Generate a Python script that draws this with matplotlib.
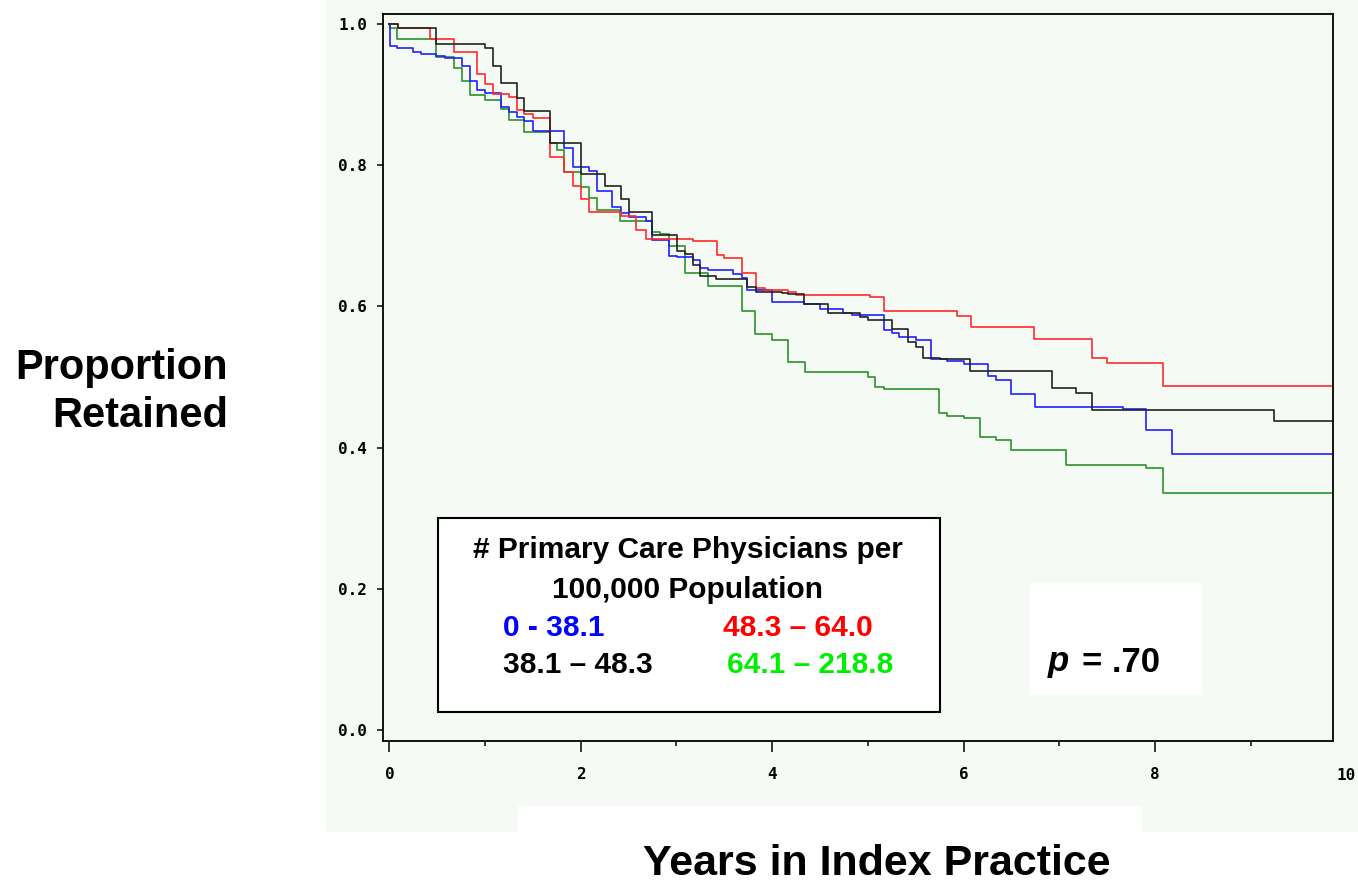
import numpy as np
import matplotlib.pyplot as plt
from matplotlib.patches import Rectangle
from matplotlib.ticker import MultipleLocator

# Kaplan-Meier style retention curves
blue_t = [0, 0.01, 0.08, 0.25, 0.33, 0.49, 0.58, 0.76, 0.84, 0.92, 1.00, 1.17, 1.25, 1.33,
          1.41, 1.50, 1.83, 1.92, 2.09, 2.17, 2.33, 2.42, 2.50, 2.68, 2.74, 2.92, 3.01, 3.17,
          3.25, 3.33, 3.59, 3.68, 3.74, 4.00, 4.33, 4.50, 4.74, 4.83, 5.17, 5.25, 5.33, 5.50,
          5.66, 5.83, 6.00, 6.26, 6.34, 6.50, 6.75, 7.67, 7.91, 8.18, 10.0]
blue_s = [1.0, 0.969, 0.966, 0.961, 0.958, 0.954, 0.952, 0.940, 0.920, 0.907, 0.902, 0.882, 0.875, 0.869,
          0.862, 0.848, 0.824, 0.797, 0.792, 0.764, 0.741, 0.733, 0.726, 0.721, 0.694, 0.671, 0.670, 0.666,
          0.654, 0.652, 0.646, 0.640, 0.623, 0.606, 0.603, 0.596, 0.591, 0.588, 0.566, 0.563, 0.556, 0.552,
          0.526, 0.523, 0.519, 0.501, 0.496, 0.476, 0.458, 0.454, 0.425, 0.391, 0.391]

red_t = [0, 0.09, 0.42, 0.675, 0.92, 1.00, 1.08, 1.25, 1.33, 1.41, 1.50, 1.675, 1.83, 1.92, 2.005,
         2.09, 2.42, 2.58, 2.68, 2.93, 3.17, 3.42, 3.50, 3.68, 3.83, 3.93, 4.17, 4.25, 5.02, 5.17,
         5.93, 6.08, 6.74, 7.34, 7.50, 8.08, 10.0]
red_s = [1.0, 0.994, 0.979, 0.960, 0.929, 0.915, 0.901, 0.896, 0.878, 0.872, 0.867, 0.811, 0.790, 0.771, 0.752,
         0.734, 0.728, 0.708, 0.696, 0.695, 0.693, 0.673, 0.668, 0.648, 0.626, 0.623, 0.621, 0.616, 0.614, 0.594,
         0.587, 0.571, 0.554, 0.527, 0.520, 0.487, 0.487]

black_t = [0, 0.09, 0.49, 1.00, 1.08, 1.17, 1.33, 1.41, 1.675, 2.005, 2.25, 2.42, 2.50, 2.74, 3.01,
           3.09, 3.17, 3.25, 3.41, 3.74, 3.83, 4.10, 4.17, 4.33, 4.58, 4.92, 5.00, 5.25, 5.42, 5.50,
           5.58, 5.75, 6.07, 6.92, 7.17, 7.34, 9.24, 10.0]
black_s = [1.0, 0.995, 0.971, 0.966, 0.940, 0.917, 0.895, 0.877, 0.832, 0.788, 0.771, 0.752, 0.734, 0.701, 0.678,
           0.674, 0.659, 0.643, 0.639, 0.627, 0.621, 0.619, 0.617, 0.603, 0.590, 0.585, 0.581, 0.568, 0.550, 0.543,
           0.527, 0.525, 0.509, 0.485, 0.478, 0.453, 0.438, 0.438]

green_t = [0, 0.01, 0.08, 0.49, 0.68, 0.76, 0.84, 1.00, 1.17, 1.25, 1.41, 1.675, 1.75, 1.83, 2.005,
           2.09, 2.17, 2.41, 2.74, 2.83, 2.92, 3.09, 3.33, 3.68, 3.82, 4.00, 4.17, 4.34, 5.00, 5.07,
           5.17, 5.74, 5.83, 6.00, 6.17, 6.34, 6.50, 7.07, 7.91, 8.08, 10.0]
green_s = [1.0, 0.995, 0.979, 0.953, 0.938, 0.920, 0.900, 0.893, 0.880, 0.864, 0.847, 0.832, 0.822, 0.791, 0.769,
           0.754, 0.737, 0.721, 0.706, 0.703, 0.685, 0.648, 0.629, 0.594, 0.561, 0.553, 0.521, 0.507, 0.500, 0.486,
           0.483, 0.449, 0.445, 0.442, 0.415, 0.411, 0.396, 0.375, 0.371, 0.335, 0.335]

groups = ['0 - 38.1', '48.3 \u2013 64.0', '38.1 \u2013 48.3', '64.1 \u2013 218.8']
legend_title = '# Primary Care Physicians per\n100,000 Population'
p_text = '.70'

W, H = 1358, 884
MINT = '#f5faf5'


def fx(px):
    return px / W


def fy(py):
    return 1 - py / H


fig = plt.figure(figsize=(W / 100, H / 100), dpi=100)

# light panel behind the plot and the white patch under the axis labels
fig.add_artist(Rectangle((fx(326), fy(832)), (W - 326) / W, 832 / H, transform=fig.transFigure,
                         facecolor=MINT, edgecolor='none', zorder=-2))
fig.add_artist(Rectangle((fx(518), fy(832)), (1142 - 518) / W, 26 / H, transform=fig.transFigure,
                         facecolor='white', edgecolor='none', zorder=-1))

ax = fig.add_axes([fx(383), fy(741), (1333 - 383) / W, (741 - 14) / H])
ax.set_facecolor(MINT)

ax.step(green_t, green_s, where='post', color='#2a922a', lw=1.2)
ax.step(blue_t, blue_s, where='post', color='#2020ff', lw=1.2)
ax.step(red_t, red_s, where='post', color='#ff2a2a', lw=1.2)
ax.step(black_t, black_s, where='post', color='#222222', lw=1.2)

ax.set_xlim(-0.066, 9.86)
ax.set_ylim(-0.0156, 1.0142)
ax.xaxis.set_major_locator(MultipleLocator(2))
ax.xaxis.set_minor_locator(MultipleLocator(1))
ax.yaxis.set_major_locator(MultipleLocator(0.2))
ax.yaxis.set_major_formatter(plt.FormatStrFormatter('%.1f'))
ax.xaxis.set_major_formatter(plt.FormatStrFormatter('%d'))

for sp in ax.spines.values():
    sp.set_linewidth(1.3)
    sp.set_color('black')

tick_font = dict(family='DejaVu Sans Mono', weight='bold', size=11.5)
ax.tick_params(axis='x', which='major', length=8, width=1.1, pad=11)
ax.tick_params(axis='x', which='minor', length=3.5, width=1.1)
ax.tick_params(axis='y', which='major', length=4.3, width=1.1, pad=7)
for lab in ax.get_xticklabels() + ax.get_yticklabels():
    lab.set_fontproperties(tick_font)
# the last tick label sits just past the clipped right edge
ax.annotate('10', xy=(10, 0), xycoords=('data', 'axes fraction'), xytext=(0, -19.5),
            textcoords='offset points', ha='center', va='top', annotation_clip=False, **tick_font)

lab_font = ['Liberation Sans', 'DejaVu Sans']
fig.text(fx(228), fy(392), 'Proportion\nRetained', ha='right', va='center', ma='right',
         family=lab_font, weight='bold', size=30, linespacing=1.25)
fig.text(fx(877), fy(864), 'Years in Index Practice', ha='center', va='center',
         family=lab_font, weight='bold', size=31)

# legend panel
fig.add_artist(Rectangle((fx(438), fy(712)), (940 - 438) / W, (712 - 518) / H, transform=fig.transFigure,
                         facecolor='white', edgecolor='black', lw=1.5, zorder=5))
fig.text(fx(688), fy(570), legend_title, ha='center', va='center', ma='center',
         family=lab_font, weight='bold', size=21.5, linespacing=1.5, zorder=6)
leg_cols = ['#0000ff', '#ff0000', 'black', '#00ee00']
leg_x = [503, 723, 503, 727]
leg_y = [628, 628, 665, 665]
for g, c, x, y in zip(groups, leg_cols, leg_x, leg_y):
    fig.text(fx(x), fy(y), g, ha='left', va='center', color=c, family=lab_font,
             weight='bold', size=21.5, zorder=6)

# p-value panel
fig.add_artist(Rectangle((fx(1030), fy(695)), (1202 - 1030) / W, (695 - 583) / H, transform=fig.transFigure,
                         facecolor='white', edgecolor='none', zorder=5))
fig.text(fx(1048), fy(662), 'p', ha='left', va='center', family=lab_font, weight='bold',
         style='italic', size=25, zorder=6)
fig.text(fx(1082), fy(662), '= ' + p_text, ha='left', va='center', family=lab_font, weight='bold',
         size=25, zorder=6)

fig.savefig('out.png', dpi=100)
